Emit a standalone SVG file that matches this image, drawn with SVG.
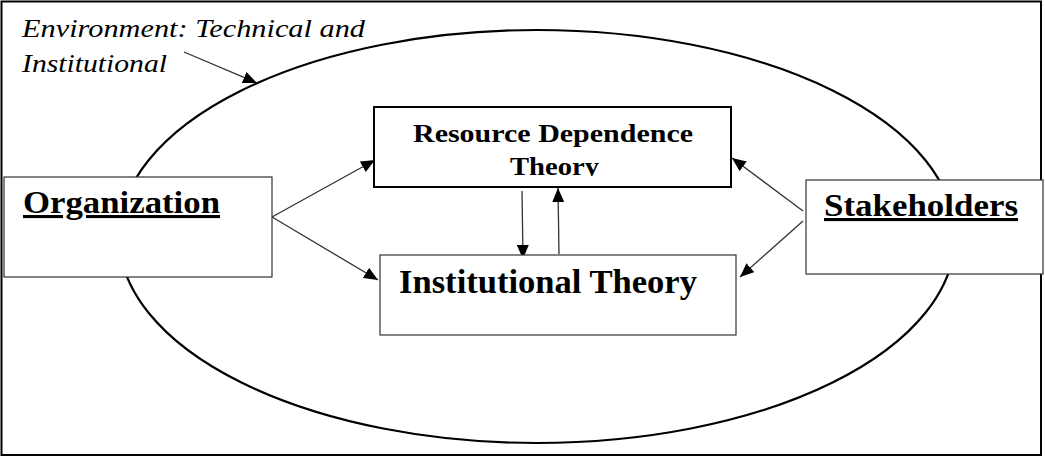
<svg xmlns="http://www.w3.org/2000/svg" width="1045" height="457" viewBox="0 0 1045 457">
  <style>
    .frame { fill: #fff; stroke: #000; stroke-width: 2; }
    .env { fill: none; stroke: #000; stroke-width: 2.2; }
    .box { fill: #fff; stroke: #333; stroke-width: 1.2; }
    .box-strong { fill: #fff; stroke: #000; stroke-width: 2; }
    .label { font-family: "Liberation Serif", "Times New Roman", serif; font-weight: bold; fill: #000; }
    .note { font-family: "Liberation Serif", "Times New Roman", serif; font-style: italic; fill: #000; font-size: 26px; }
    .link { stroke: #333; stroke-width: 1.3; fill: none; marker-end: url(#head); }
  </style>
  <defs>
    <marker id="head" viewBox="0 0 14 12" refX="14" refY="6" markerWidth="14" markerHeight="12" markerUnits="userSpaceOnUse" orient="auto">
      <path d="M0,0 L14,6 L0,12 Z" fill="#000"/>
    </marker>
    <clipPath id="rdt-clip">
      <rect x="375" y="108" width="355" height="68"/>
    </clipPath>
  </defs>

  <!-- outer frame and environment ellipse -->
  <rect class="frame" x="1.5" y="1.5" width="1039.5" height="453.5"/>
  <ellipse class="env" cx="537" cy="236.5" rx="418" ry="206.5"/>

  <g id="environment-label">
    <text class="note" x="22" y="37" textLength="343" lengthAdjust="spacingAndGlyphs">Environment: Technical and</text>
    <text class="note" x="22" y="72" textLength="145" lengthAdjust="spacingAndGlyphs">Institutional</text>
  </g>

  <g id="connectors">
    <line class="link" x1="184" y1="52" x2="257" y2="83"/>
    <line class="link" x1="272" y1="217" x2="375" y2="160"/>
    <line class="link" x1="272" y1="217" x2="378" y2="280"/>
    <line class="link" x1="803" y1="211" x2="732" y2="158"/>
    <line class="link" x1="803" y1="221" x2="740" y2="277"/>
    <line class="link" x1="522" y1="191" x2="523" y2="259"/>
    <line class="link" x1="559" y1="254" x2="558" y2="188"/>
  </g>

  <g id="organization">
    <rect class="box" x="4" y="177" width="268" height="100"/>
    <text class="label" x="23" y="213" font-size="31" text-decoration="underline" textLength="197" lengthAdjust="spacingAndGlyphs">Organization</text>
  </g>

  <g id="resource-dependence-theory">
    <rect class="box-strong" x="374" y="107" width="357" height="80"/>
    <g clip-path="url(#rdt-clip)">
      <text class="label" x="413" y="142" font-size="26" textLength="280" lengthAdjust="spacingAndGlyphs">Resource Dependence</text>
      <text class="label" x="510" y="175" font-size="26" textLength="89" lengthAdjust="spacingAndGlyphs">Theory</text>
    </g>
  </g>

  <g id="institutional-theory">
    <rect class="box" x="380" y="255" width="356" height="80"/>
    <text class="label" x="399" y="293" font-size="34" textLength="298" lengthAdjust="spacingAndGlyphs">Institutional Theory</text>
  </g>

  <g id="stakeholders">
    <rect class="box" x="806" y="180" width="237" height="94"/>
    <text class="label" x="824" y="216" font-size="31" text-decoration="underline" textLength="194" lengthAdjust="spacingAndGlyphs">Stakeholders</text>
  </g>
</svg>
